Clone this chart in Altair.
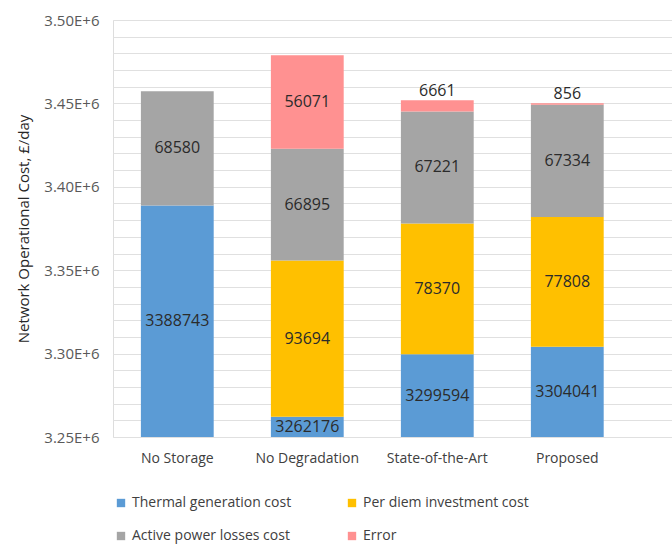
import altair as alt
import pandas as pd

scenarios = ["No Storage", "No Degradation", "State-of-the-Art", "Proposed"]
components = ["Thermal generation cost", "Per diem investment cost",
              "Active power losses cost", "Error"]
colors = ["#5B9BD5", "#FFC000", "#A5A5A5", "#FF9191"]

thermal = [3388743, 3262176, 3299594, 3304041]
per_diem = [0, 93694, 78370, 77808]
losses = [68580, 66895, 67221, 67334]
error = [0, 56071, 6661, 856]

y_ticks = [3250000 + 10000 * i for i in range(26)]

rows = []
for i, s in enumerate(scenarios):
    for k, (c, vals) in enumerate(zip(components, [thermal, per_diem, losses, error])):
        if vals[i] > 0:
            rows.append({"scenario": s, "component": c, "value": vals[i], "ord": k})
df = pd.DataFrame(rows)

FONT = "Open Sans"
YMIN, YMAX = 3250000, 3500000
YTITLE = "Network Operational Cost, £/day"

base = alt.Chart(df).transform_stack(
    stack="value", groupby=["scenario"], as_=["y0", "y1"],
    sort=[alt.SortField("ord", order="ascending")]
).transform_calculate(
    lo=f"max(datum.y0, {YMIN})",
    mid=f"(max(datum.y0, {YMIN}) + datum.y1) / 2",
)

xscale = alt.Scale(paddingInner=0.44, paddingOuter=0.37, align=0.29)
xaxis = alt.Axis(labelAngle=0, labelFont=FONT, labelFontSize=14,
                 labelColor="#404040", ticks=False, domain=False,
                 labelPadding=14, grid=False)
yscale = alt.Scale(domain=[YMIN, YMAX], nice=False, zero=False)
yaxis = alt.Axis(values=y_ticks, labelOverlap=False,
                 labelExpr="round(datum.value) % 50000 == 0 ? format(datum.value/1e6, '.2f') + 'E+6' : ''",
                 labelFont=FONT, labelFontSize=15, labelColor="#595959",
                 titleFont=FONT, titleFontSize=15, titleFontWeight="normal",
                 titleColor="#262626", titlePadding=12,
                 gridColor="#E0E0E0", gridWidth=1, ticks=False,
                 domain=False, labelPadding=14)


def xenc():
    return alt.X("scenario:N", sort=scenarios, title=None, scale=xscale, axis=xaxis)


bars = base.mark_bar(clip=True).encode(
    x=xenc(),
    y=alt.Y("y0:Q", scale=yscale, title=YTITLE, axis=yaxis),
    y2="y1:Q",
    color=alt.Color("component:N", sort=components,
                    scale=alt.Scale(domain=components, range=colors),
                    legend=alt.Legend(title=None, orient="none", legendX=1, legendY=476,
                                      columns=2, direction="horizontal",
                                      symbolType="square", symbolSize=70,
                                      symbolStrokeWidth=0,
                                      labelFont=FONT, labelFontSize=14,
                                      labelColor="#404040", columnPadding=53,
                                      rowPadding=19, labelLimit=300)),
)

inside = base.transform_filter("datum.value >= 10000").mark_text(
    font=FONT, fontSize=16, color="#2B2B2B", baseline="middle"
).encode(
    x=xenc(),
    y=alt.Y("mid:Q", scale=yscale, title=YTITLE, axis=yaxis),
    text=alt.Text("value:Q", format="d"),
)

outside = base.transform_filter("datum.value < 10000").mark_text(
    font=FONT, fontSize=16, color="#2B2B2B", baseline="bottom", dy=-1
).encode(
    x=xenc(),
    y=alt.Y("y1:Q", scale=yscale, title=YTITLE, axis=yaxis),
    text=alt.Text("value:Q", format="d"),
)

chart = alt.layer(bars, inside, outside).properties(
    width=559, height=417,
    autosize=alt.AutoSizeParams(type="none"),
    padding={"left": 113, "top": 20, "right": 0, "bottom": 107},
).configure_view(strokeWidth=0, stroke="transparent").configure(background="white")

chart.save("out.html", embed_options={"renderer": "svg", "actions": False})
